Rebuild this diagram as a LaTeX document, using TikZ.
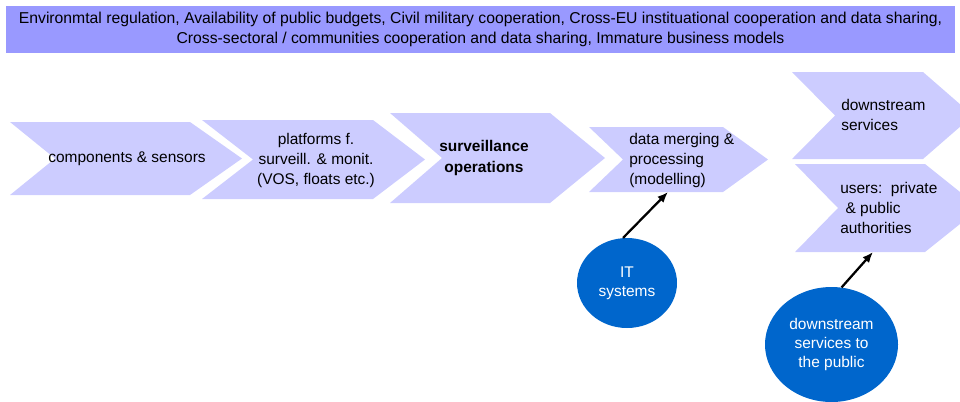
\documentclass[tikz,border=0pt]{standalone}
\usepackage{fontspec}
\setmainfont{Liberation Sans}
\usetikzlibrary{arrows.meta, shapes.geometric, positioning}
\definecolor{barblue}{HTML}{9999FF}
\definecolor{chevblue}{HTML}{CCCCFF}
\definecolor{bubbleblue}{HTML}{0066CC}

\begin{document}
\begin{tikzpicture}[x=0.75pt, y=-0.75pt,
    chev/.style={fill=chevblue},
    lbl/.style={inner sep=0pt, font=\fontsize{11.6}{15}\selectfont},
    bubble/.style={ellipse, fill=bubbleblue, text=white, inner sep=0pt, align=center, font=\fontsize{11.6}{14.5}\selectfont},
    >={Latex[length=8pt, width=6.5pt]}]
    \useasboundingbox (0,0) rectangle (960,401);

    % Bar with the framework conditions on top
    \node[fill=barblue, minimum width=711.75pt, minimum height=35.25pt, inner sep=0pt, align=center, font=\fontsize{11.8}{15}\selectfont] (conditions) at (480.5,29.5)
    {Environmtal regulation, Availability of public budgets, Civil military cooperation, Cross-EU instituational cooperation and data sharing,\\
     Cross-sectoral / communities cooperation and data sharing, Immature business models};

    % Chevrons of the value chain
    \fill[chev] (10,122) -- (190,122) -- (242,158.5) -- (190,195) -- (10,195) -- (55,158.5) -- cycle;
    \fill[chev] (202,120) -- (373,120) -- (425,159.5) -- (373,199) -- (202,199) -- (253,159.5) -- cycle;
    \fill[chev] (390,113) -- (550,113) -- (605,158) -- (550,203) -- (390,203) -- (442,158) -- cycle;
    \fill[chev] (589,127) -- (723,127) -- (768,159.5) -- (723,192) -- (589,192) -- (623,159.5) -- cycle;
    \fill[chev] (792,72) -- (923,72) -- (973,115.5) -- (923,159) -- (792,159) -- (835,115.5) -- cycle;
    \fill[chev] (795,164) -- (925,164) -- (980,208) -- (925,252) -- (795,252) -- (838,208) -- cycle;
    \coordinate (mergebottom) at (668,192);
    \coordinate (usersbottom) at (873,252);

    % Labels of the chevrons
    \node[lbl] (components) at (127,159) {components \& sensors};
    \node[lbl, align=center] (platforms) at (316,160) {platforms f.\\ surveill. \& monit.\\ (VOS, floats etc.)};
    \node[lbl, align=center, font=\fontsize{11.6}{15.75}\selectfont\bfseries] (operations) at (484,157.5) {surveillance\\ operations};
    \node[lbl, align=left, anchor=west] (merging) at (629,160) {data merging \&\\ processing\\ (modelling)};
    \node[lbl, align=left, anchor=west] (services) at (841,115) {downstream\\ services};
    \node[lbl, align=left, anchor=west] (users) at (840,208) {users:\ \ private\\ \hspace*{4pt}\& public\\ authorities};

    % Circles feeding the chain
    \node[bubble, minimum width=75pt, minimum height=67.5pt] (itsystems) at (627,283) {IT\\ systems};
    \node[bubble, minimum width=99.75pt, minimum height=86.25pt] (public) at (831.5,344.5) {downstream\\ services to\\ the public};

    % Arrows from the circles
    \draw[->, line width=1.7pt] (itsystems.95) -- (mergebottom);
    \draw[->, line width=1.7pt] (public.80) -- (usersbottom);
\end{tikzpicture}
\end{document}
